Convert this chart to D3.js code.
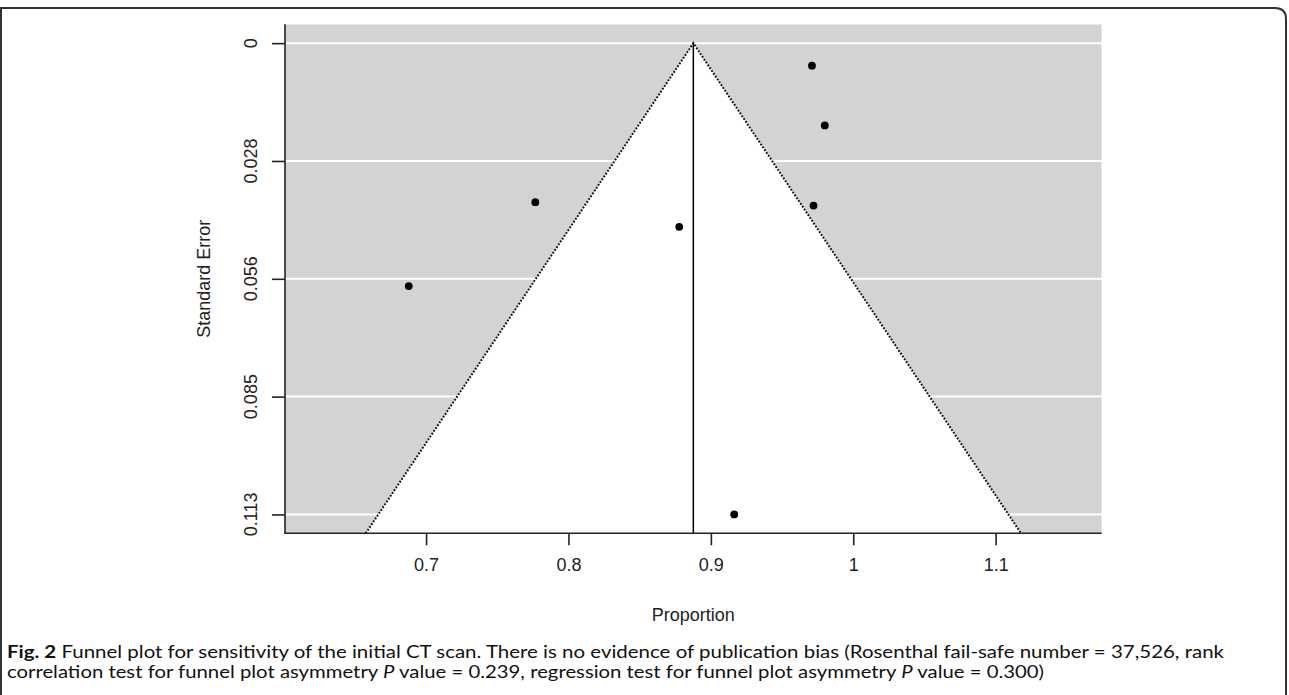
<!DOCTYPE html>
<html lang="en">
  <head>
    <meta charset="UTF-8" />
    <title>Funnel plot</title>
    <style>
      body {
        margin: 0;
        background: #fff;
      }
      .axis-text {
        font-family: "Liberation Sans", Arial, sans-serif;
        font-size: 18px;
        fill: #222;
      }
      .caption {
        font-family: Lato, "Open Sans", sans-serif;
        font-size: 16.5px;
        fill: #111;
      }
    </style>
  </head>
  <body>
    <div id="chart"></div>
    <script src="https://cdn.jsdelivr.net/npm/d3@7"></script>
    <script>
      /* global d3 */

      // study estimates
      let studyProportion = [0.971, 0.98, 0.9721, 0.8778, 0.7767, 0.6878, 0.9164];
      let studySE = [0.0054, 0.0197, 0.0389, 0.044, 0.0381, 0.0582, 0.1129];
      let pooledEstimate = 0.8877;

      let xTicks = [0.7, 0.8, 0.9, 1, 1.1];
      let xTickLabels = ["0.7", "0.8", "0.9", "1", "1.1"];
      let seTicks = [0, 0.028225, 0.05645, 0.084675, 0.1129];
      let seTickLabels = ["0", "0.028", "0.056", "0.085", "0.113"];

      let captionLines = [
        [
          { t: "Fig. 2", w: "bold" },
          { t: " Funnel plot for sensitivity of the initial CT scan. There is no evidence of publication bias (Rosenthal fail-safe number = 37,526, rank" },
        ],
        [
          { t: "correlation test for funnel plot asymmetry " },
          { t: "P", s: "italic" },
          { t: " value = 0.239, regression test for funnel plot asymmetry " },
          { t: "P", s: "italic" },
          { t: " value = 0.300)" },
        ],
      ];

      let width = 1289,
        height = 695;

      let plotLeft = 285,
        plotRight = 1101.7,
        plotTop = 24.3,
        plotBottom = 533.3;

      let svg = d3
        .select("#chart")
        .append("svg")
        .attr("width", width)
        .attr("height", height);

      // frame around the figure, rounded top-right corner
      svg
        .append("path")
        .attr("d", "M1,700 L1,8 L1275,8 Q1286,8 1286,19 L1286,700")
        .attr("fill", "none")
        .attr("stroke", "#333")
        .attr("stroke-width", 2);

      // limits like metafor's funnel(): 10% then 4% padding
      let seMax = d3.max(studySE);
      let lo = Math.min(pooledEstimate - 1.96 * seMax, d3.min(studyProportion));
      let hi = Math.max(pooledEstimate + 1.96 * seMax, d3.max(studyProportion));
      let r = hi - lo;
      lo -= r * 0.1;
      hi += r * 0.1;
      r = hi - lo;

      let x = d3
        .scaleLinear()
        .domain([lo - r * 0.04, hi + r * 0.04])
        .range([plotLeft, plotRight]);

      let y = d3
        .scaleLinear()
        .domain([-seMax * 0.04, seMax * 1.04])
        .range([plotTop, plotBottom]);

      let seBottom = y.domain()[1];

      svg
        .append("clipPath")
        .attr("id", "plotclip")
        .append("rect")
        .attr("x", plotLeft)
        .attr("y", plotTop)
        .attr("width", plotRight - plotLeft)
        .attr("height", plotBottom - plotTop);

      let plot = svg.append("g").attr("clip-path", "url(#plotclip)");

      plot
        .append("rect")
        .attr("x", plotLeft)
        .attr("y", plotTop)
        .attr("width", plotRight - plotLeft)
        .attr("height", plotBottom - plotTop)
        .attr("fill", "#d3d3d3");

      plot
        .selectAll(".grid")
        .data(seTicks)
        .enter()
        .append("line")
        .attr("class", "grid")
        .attr("x1", plotLeft)
        .attr("x2", plotRight)
        .attr("y1", function (d) {
          return y(d);
        })
        .attr("y2", function (d) {
          return y(d);
        })
        .attr("stroke", "#fff")
        .attr("stroke-width", 2);

      let funnel = [
        [pooledEstimate - 1.96 * seBottom, seBottom],
        [pooledEstimate, 0],
        [pooledEstimate + 1.96 * seBottom, seBottom],
      ];

      let line = d3
        .line()
        .x(function (d) {
          return x(d[0]);
        })
        .y(function (d) {
          return y(d[1]);
        });

      plot
        .append("path")
        .attr("d", line(funnel) + "Z")
        .attr("fill", "#fff");

      plot
        .append("path")
        .attr("d", line(funnel))
        .attr("fill", "none")
        .attr("stroke", "#111")
        .attr("stroke-width", 2)
        .attr("stroke-dasharray", "1.8,1.6");

      plot
        .append("line")
        .attr("x1", x(pooledEstimate))
        .attr("x2", x(pooledEstimate))
        .attr("y1", y(0))
        .attr("y2", plotBottom)
        .attr("stroke", "#000")
        .attr("stroke-width", 1.5);

      plot
        .selectAll(".pt")
        .data(studyProportion)
        .enter()
        .append("circle")
        .attr("class", "pt")
        .attr("cx", function (d) {
          return x(d);
        })
        .attr("cy", function (d, i) {
          return y(studySE[i]);
        })
        .attr("r", 3.9)
        .attr("fill", "#000");

      // axis lines (L-shaped box)
      svg
        .append("path")
        .attr("d", "M" + plotLeft + "," + plotTop + "V" + plotBottom + "H" + plotRight)
        .attr("fill", "none")
        .attr("stroke", "#222")
        .attr("stroke-width", 1.6);

      // x axis
      let xAxis = d3
        .axisBottom(x)
        .tickValues(xTicks)
        .tickFormat(function (d, i) {
          return xTickLabels[i];
        })
        .tickSize(12)
        .tickPadding(13);

      let gx = svg
        .append("g")
        .attr("transform", "translate(0," + plotBottom + ")")
        .call(xAxis);
      gx.select(".domain").remove();
      gx.selectAll(".tick line").attr("stroke", "#222").attr("stroke-width", 1.6);
      gx.selectAll(".tick text").attr("class", "axis-text");
      gx.attr("font-family", null).attr("font-size", null);

      // y axis, labels rotated as in base R
      let yAxis = d3.axisLeft(y).tickValues(seTicks).tickSize(13).tickFormat("");
      let gy = svg
        .append("g")
        .attr("transform", "translate(" + plotLeft + ",0)")
        .call(yAxis);
      gy.select(".domain").remove();
      gy.selectAll(".tick line").attr("stroke", "#222").attr("stroke-width", 1.6);

      svg
        .selectAll(".ylab")
        .data(seTicks)
        .enter()
        .append("text")
        .attr("class", "axis-text")
        .attr("text-anchor", "middle")
        .attr("transform", function (d) {
          return "translate(256.5," + y(d) + ") rotate(-90)";
        })
        .text(function (d, i) {
          return seTickLabels[i];
        });

      svg
        .append("text")
        .attr("class", "axis-text")
        .attr("text-anchor", "middle")
        .attr("transform", "translate(209.5," + (plotTop + plotBottom) / 2 + ") rotate(-90)")
        .text("Standard Error");

      svg
        .append("text")
        .attr("class", "axis-text")
        .attr("text-anchor", "middle")
        .attr("x", (plotLeft + plotRight) / 2)
        .attr("y", 621)
        .text("Proportion");

      // caption
      let capWidths = [1217, 1037];
      captionLines.forEach(function (parts, i) {
        let t = svg
          .append("text")
          .attr("class", "caption")
          .attr("x", 7)
          .attr("y", 658 + i * 19.5)
          .attr("textLength", capWidths[i])
          .attr("lengthAdjust", "spacingAndGlyphs");
        parts.forEach(function (p) {
          t.append("tspan")
            .attr("font-weight", p.w || null)
            .attr("font-style", p.s || null)
            .text(p.t);
        });
      });
    </script>
  </body>
</html>
